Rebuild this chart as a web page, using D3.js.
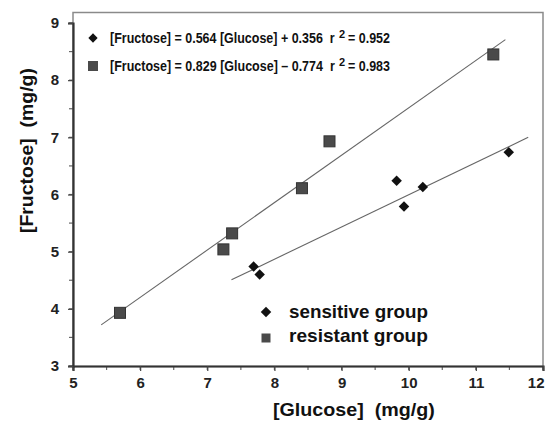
<!DOCTYPE html>
<html><head><meta charset="utf-8">
<script src="https://cdn.jsdelivr.net/npm/d3@7"></script>
<style>
body{margin:0;background:#fff;}
text{font-family:"Liberation Sans",Arial,sans-serif;}
</style></head>
<body><svg id="chart" width="547" height="421"></svg>
<script>
// Sensitive group: glucose vs fructose (mg/g)
const sensitiveGlucose = [7.69, 7.78, 9.82, 9.93, 10.21, 11.49];
const sensitiveFructose = [4.74, 4.60, 6.24, 5.79, 6.13, 6.74];
// Resistant group
const resistantGlucose = [5.70, 7.24, 7.37, 8.41, 8.82, 11.26];
const resistantFructose = [3.93, 5.04, 5.32, 6.11, 6.93, 8.45];
// Fitted lines: slope, intercept, r², and x-extent of the drawn segment
const sensitiveFit = {slope: 0.564, intercept: 0.356, r2: 0.952, x0: 7.36, x1: 11.78};
const resistantFit = {slope: 0.829, intercept: -0.774, r2: 0.983, x0: 5.42, x1: 11.44};
const xTicks = [5, 6, 7, 8, 9, 10, 11, 12];
const yTicks = [3, 4, 5, 6, 7, 8, 9];

const svg = d3.select("#chart");
const x = d3.scaleLinear().domain([5, 12]).range([73, 543]);
const y = d3.scaleLinear().domain([3, 9]).range([366, 23]);

// condensed text: draw at the natural size, then squeeze horizontally to a target width
function narrowText(parent, str, px, py, size, width, rotate) {
  const t = parent.append("text").attr("font-size", size).attr("font-weight", "bold")
    .attr("fill", "#111").attr("xml:space", "preserve").text(str);
  const w = t.node().getComputedTextLength();
  const k = width / w;
  t.attr("transform", `translate(${px},${py})${rotate ? " rotate(-90)" : ""} scale(${k},1)`);
  return t;
}

// frame (top/right lighter)
svg.append("rect").attr("x", 73).attr("y", 12.5).attr("width", 470).attr("height", 354)
  .attr("fill", "none").attr("stroke", "#8a8a8a").attr("stroke-width", 1.5);

// minor ticks
const minorX = d3.range(5, 12.01, 0.5);
const minorY = d3.range(3, 9.01, 0.5);
svg.append("g").selectAll("line").data(minorX).join("line")
  .attr("x1", d => x(d)).attr("x2", d => x(d)).attr("y1", 366).attr("y2", 370)
  .attr("stroke", "#666").attr("stroke-width", 1.2);
svg.append("g").selectAll("line").data(minorY).join("line")
  .attr("x1", 69).attr("x2", 73).attr("y1", d => y(d)).attr("y2", d => y(d))
  .attr("stroke", "#666").attr("stroke-width", 1.2);

// axes
const xAxis = svg.append("g").attr("transform", "translate(0,366)")
  .call(d3.axisBottom(x).tickValues(xTicks).tickSize(5).tickPadding(6).tickFormat(d3.format("d")));
const yAxis = svg.append("g").attr("transform", "translate(73,0)")
  .call(d3.axisLeft(y).tickValues(yTicks).tickSize(5).tickPadding(9).tickFormat(d3.format("d")));
[xAxis, yAxis].forEach(a => {
  a.select(".domain").attr("stroke", "#333").attr("stroke-width", 2.2);
  a.selectAll(".tick line").attr("stroke", "#444").attr("stroke-width", 1.2);
  a.selectAll(".tick text").attr("font-size", 15).attr("fill", "#222").attr("font-weight", "bold")
    .style("font-family", "'Liberation Sans',Arial,sans-serif");
});
// last x label sits flush against the right edge
xAxis.selectAll(".tick text").filter(d => d === 12).attr("text-anchor", "end").attr("x", 1);

// regression lines
[sensitiveFit, resistantFit].forEach(f => {
  svg.append("line")
    .attr("x1", x(f.x0)).attr("y1", y(f.slope * f.x0 + f.intercept))
    .attr("x2", x(f.x1)).attr("y2", y(f.slope * f.x1 + f.intercept))
    .attr("stroke", "#666").attr("stroke-width", 1.1);
});

const diamond = d3.symbol().type(d3.symbolDiamond2).size(70);
const resistant = resistantGlucose.map((g, i) => [g, resistantFructose[i]]);
const sensitive = sensitiveGlucose.map((g, i) => [g, sensitiveFructose[i]]);

svg.append("g").selectAll("rect").data(resistant).join("rect")
  .attr("x", d => x(d[0]) - 5.5).attr("y", d => y(d[1]) - 5.5)
  .attr("width", 11).attr("height", 11)
  .attr("fill", "#4a4a4a").attr("stroke", "#333").attr("stroke-width", 1);
svg.append("g").selectAll("path").data(sensitive).join("path")
  .attr("transform", d => `translate(${x(d[0])},${y(d[1])})`)
  .attr("d", diamond).attr("fill", "#111");

// equations: main text, superscript 2, then the r² value
function equation(yPos, fit, sign, marker) {
  const g = svg.append("g");
  if (marker === "d") {
    g.append("path").attr("transform", `translate(93,${yPos})`).attr("d", d3.symbol().type(d3.symbolDiamond2).size(55)).attr("fill", "#111");
  } else {
    g.append("rect").attr("x", 88).attr("y", yPos - 5).attr("width", 10).attr("height", 10).attr("fill", "#4a4a4a");
  }
  narrowText(g, `[Fructose] = ${fit.slope.toFixed(3)} [Glucose] ${sign} ${Math.abs(fit.intercept).toFixed(3)}  r`,
    110, yPos + 5, 14, 225);
  g.append("text").attr("x", 339).attr("y", yPos).attr("font-size", 11).attr("font-weight", "bold")
    .attr("fill", "#111").text("2");
  narrowText(g, `= ${fit.r2.toFixed(3)}`, 348, yPos + 5, 14, 42);
}
equation(38, sensitiveFit, "+", "d");
equation(66, resistantFit, "\u2013", "s");

// legend
svg.append("path").attr("transform", "translate(266,312)").attr("d", diamond).attr("fill", "#111");
svg.append("rect").attr("x", 261.5).attr("y", 333.5).attr("width", 9).attr("height", 9).attr("fill", "#4a4a4a");
narrowText(svg, "sensitive group", 289, 318, 19, 139);
narrowText(svg, "resistant group", 289, 342, 19, 139);

// axis titles
narrowText(svg, "[Glucose]  (mg/g)", 273, 416, 18, 162);
narrowText(svg, "[Fructose]  (mg/g)", 33, 233, 18, 165, true);
</script></body></html>
